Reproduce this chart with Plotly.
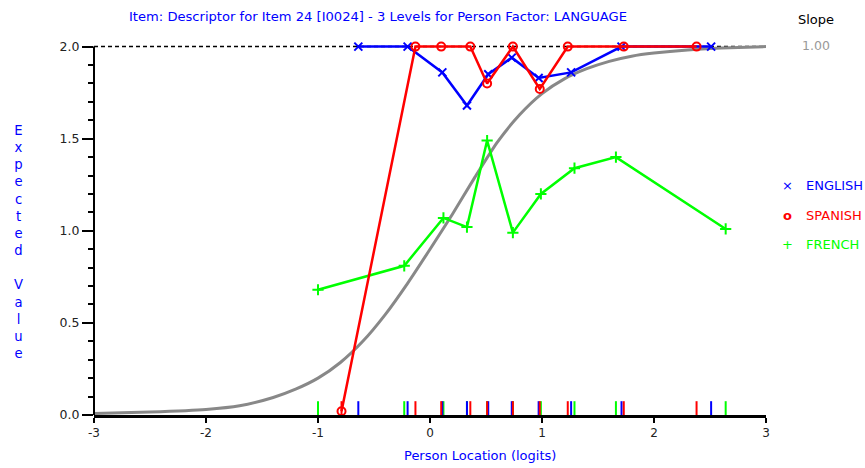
import plotly.graph_objects as go

# ---- data ----
eng_x = [-0.64, -0.20, 0.11, 0.33, 0.52, 0.73, 0.97, 1.26, 1.71, 2.51]
eng_y = [2.0, 2.0, 1.86, 1.68, 1.85, 1.94, 1.83, 1.86, 2.0, 2.0]
spa_x = [-0.79, -0.13, 0.10, 0.36, 0.51, 0.74, 0.98, 1.23, 1.73, 2.38]
spa_y = [0.02, 2.0, 2.0, 2.0, 1.80, 2.0, 1.77, 2.0, 2.0, 2.0]
fre_x = [-1.00, -0.23, 0.12, 0.33, 0.51, 0.74, 0.99, 1.29, 1.66, 2.64]
fre_y = [0.68, 0.81, 1.07, 1.02, 1.49, 0.99, 1.20, 1.34, 1.40, 1.01]

curve_x = [-3.0, -2.5, -2.0, -1.7, -1.4, -1.2, -1.0, -0.8, -0.6, -0.4, -0.2, 0.0,
           0.2, 0.4, 0.6, 0.8, 1.0, 1.2, 1.4, 1.6, 1.8, 2.0, 2.3, 2.6, 3.0]
curve_y = [0.008, 0.016, 0.03, 0.05, 0.095, 0.14, 0.20, 0.285, 0.40, 0.545, 0.715, 0.90,
           1.09, 1.29, 1.48, 1.63, 1.745, 1.825, 1.88, 1.92, 1.948, 1.965, 1.982, 1.992, 2.0]

x_ticks = [-3, -2, -1, 0, 1, 2, 3]
y_ticks = [0.0, 0.5, 1.0, 1.5, 2.0]

title = "Item: Descriptor for Item 24 [I0024] - 3 Levels for Person Factor: LANGUAGE"
groups = ["ENGLISH", "SPANISH", "FRENCH"]
slope_text = "1.00"

BLUE, RED, GREEN, GRAY = "#0000ff", "#ff0000", "#00ff00", "#888888"
FONT = "DejaVu Sans, Verdana, sans-serif"

fig = go.Figure()

# reference dashed line at max score
fig.add_trace(go.Scatter(x=[x_ticks[0], x_ticks[-1]], y=[y_ticks[-1], y_ticks[-1]],
                         mode="lines", line=dict(color="black", width=1.5, dash="4px,3px"),
                         hoverinfo="skip", cliponaxis=False))

# model curve
fig.add_trace(go.Scatter(x=curve_x, y=curve_y, mode="lines",
                         line=dict(color=GRAY, width=3, shape="spline", smoothing=0.6),
                         cliponaxis=False))

# rug ticks
def rug(xs, color):
    rx, ry = [], []
    for v in xs:
        rx += [v, v, None]
        ry += [0.0, 0.075, None]
    fig.add_trace(go.Scatter(x=rx, y=ry, mode="lines", line=dict(color=color, width=2),
                             hoverinfo="skip", cliponaxis=False))

rug(fre_x, GREEN)
rug(eng_x, BLUE)
rug(spa_x, RED)

fig.add_trace(go.Scatter(x=fre_x, y=fre_y, mode="lines+markers", name=groups[2],
                         line=dict(color=GREEN, width=2.5),
                         marker=dict(symbol="cross-thin-open", size=8,
                                     line=dict(color=GREEN, width=2)),
                         cliponaxis=False))
fig.add_trace(go.Scatter(x=eng_x, y=eng_y, mode="lines+markers", name=groups[0],
                         line=dict(color=BLUE, width=2.5),
                         marker=dict(symbol="x-thin-open", size=8,
                                     line=dict(color=BLUE, width=2)),
                         cliponaxis=False))
fig.add_trace(go.Scatter(x=spa_x, y=spa_y, mode="lines+markers", name=groups[1],
                         line=dict(color=RED, width=2.5),
                         marker=dict(symbol="circle-open", size=8,
                                     line=dict(color=RED, width=2)),
                         cliponaxis=False))

YTOP = 2.025
L, R, T, B = 94, 99, 42, 53
W, H = 865, 468
pw, ph = W - L - R, H - T - B

def px(xp):
    return (xp - L) / pw

def py(yp):
    return (H - B - yp) / ph

ann = []
ann.append(dict(text=title, x=px(378), y=py(17), font=dict(color=BLUE, size=13.1, family=FONT)))
ann.append(dict(text="Slope", x=px(816), y=py(20), font=dict(color="black", size=13, family=FONT)))
ann.append(dict(text=slope_text, x=px(816), y=py(45), font=dict(color="#999999", size=12.5, family=FONT)))
ann.append(dict(text="Person Location (logits)", x=px(480), y=py(455),
                font=dict(color=BLUE, size=13, family=FONT)))
ylab = "<br>".join(list("Expected Value"))
ann.append(dict(text=ylab, x=px(18), y=py(241.5), font=dict(color=BLUE, size=13.2, family=FONT)))

sym = ["×", "<b>o</b>", "+"]
cols = [BLUE, RED, GREEN]
for i, (g, s, c) in enumerate(zip(groups, sym, cols)):
    yy = py(185 + 30 * i)
    ann.append(dict(text=s, x=px(787), y=yy, font=dict(color=c, size=13, family=FONT)))
    ann.append(dict(text=g, x=px(804), y=yy, xanchor="left",
                    font=dict(color=c, size=13, family=FONT)))

for a in ann:
    a.setdefault("xanchor", "center")
    a.update(xref="paper", yref="paper", yanchor="middle", showarrow=False)

fig.update_layout(
    width=W, height=H,
    margin=dict(l=L, r=R, t=T, b=B),
    paper_bgcolor="white", plot_bgcolor="white",
    showlegend=False,
    annotations=ann,
    shapes=[dict(type="line", xref="paper", yref="y", x0=0, x1=0,
                 y0=y_ticks[0], y1=y_ticks[-1], line=dict(color="black", width=2))],
    font=dict(family=FONT, size=12, color="#222222"),
    xaxis=dict(range=[x_ticks[0], x_ticks[-1]], tickvals=x_ticks,
               ticktext=[str(v) for v in x_ticks],
               showgrid=False, zeroline=False, showline=True, linecolor="black",
               linewidth=3, ticks="outside", ticklen=5, tickwidth=1.5,
               tickcolor="black", tickfont=dict(size=12, color="#222222")),
    yaxis=dict(range=[y_ticks[0], YTOP], tickvals=y_ticks,
               ticktext=["%.1f" % v for v in y_ticks],
               showgrid=False, zeroline=False, showline=False,
               ticks="outside", ticklen=11, tickwidth=1.5,
               tickcolor="black", tickfont=dict(size=12.5, color="#222222"),
               minor=dict(dtick=0.1, ticks="outside", ticklen=5, tickwidth=1.5,
                          tickcolor="black", showgrid=False)),
)

fig.write_html("out.html")
